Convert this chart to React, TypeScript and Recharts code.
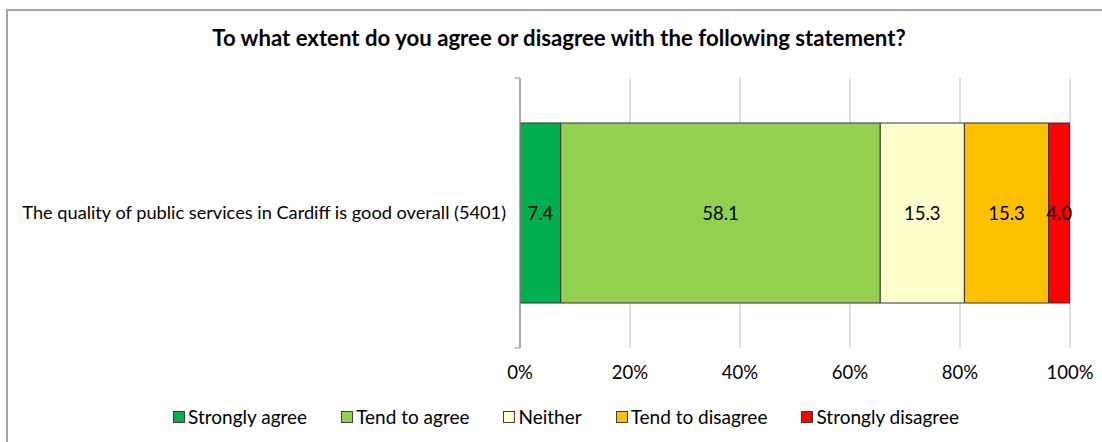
import React from "react";
import { BarChart, Bar, XAxis, YAxis, CartesianGrid, Legend, LabelList, ReferenceArea } from "recharts";

const title = "To what extent do you agree or disagree with the following statement?";
const categories = ["The quality of public services in Cardiff is good overall (5401)"];
const seriesNames = ["Strongly agree", "Tend to agree", "Neither", "Tend to disagree", "Strongly disagree"];
const stronglyAgree = [7.4];
const tendToAgree = [58.1];
const neither = [15.3];
const tendToDisagree = [15.3];
const stronglyDisagree = [4.0];
const xTicks = [0, 20, 40, 60, 80, 100];
const colors = ["#00B050", "#92D050", "#FFFFCC", "#FFC000", "#FF0000"];

const seriesValues = [stronglyAgree, tendToAgree, neither, tendToDisagree, stronglyDisagree];
const keys = ["s0", "s1", "s2", "s3", "s4"];

const data = categories.map((c, i) => {
  const row: any = { name: c };
  keys.forEach((k, j) => {
    row[k] = seriesValues[j][i];
  });
  return row;
});

const FONT = "Lato, 'Open Sans', sans-serif";

const LegendContent = (props: any) => {
  const { payload } = props;
  return (
    <div
      style={{
        display: "flex",
        justifyContent: "center",
        fontFamily: FONT,
        fontSize: 19,
        lineHeight: "22px",
        color: "#000",
        paddingLeft: 46,
      }}
    >
      {(payload || []).map((p: any, i: number) => (
        <div key={i} style={{ display: "flex", alignItems: "center", marginRight: i < payload.length - 1 ? 34 : 0 }}>
          <span
            style={{
              display: "inline-block",
              width: 10,
              height: 10,
              background: p.color,
              border: "1px solid #404040",
              marginRight: 3,
            }}
          />
          <span>{p.value}</span>
        </div>
      ))}
    </div>
  );
};

export default function App() {
  return (
    <div style={{ position: "absolute", left: 0, top: 0, width: 1102, height: 442, background: "#fff", overflow: "hidden" }}>
      <div
        style={{
          position: "absolute",
          left: 6,
          top: 9,
          width: 1200,
          height: 600,
          border: "2px solid #A6A6A6",
          boxSizing: "border-box",
        }}
      />
      <div
        style={{
          position: "absolute",
          left: 8,
          top: 24,
          width: 1102,
          textAlign: "center",
          fontFamily: FONT,
          fontWeight: 700,
          fontSize: 22.2,
          color: "#000",
        }}
      >
        {title}
      </div>
      <div style={{ position: "absolute", left: 0, top: 0 }}>
        <BarChart
          width={1102}
          height={442}
          data={data}
          layout="vertical"
          margin={{ top: 78, right: 32, bottom: 14, left: 16 }}
          barSize={180}
          style={{ fontFamily: FONT }}
        >
          <CartesianGrid horizontal={false} vertical={true} stroke="#BFBFBF" strokeWidth={1} />
          <XAxis
            type="number"
            domain={[0, 100]}
            ticks={xTicks}
            allowDataOverflow
            axisLine={false}
            tickLine={false}
            tickSize={0}
            tickMargin={18}
            height={58}
            tickFormatter={(v: number) => `${v}%`}
            tick={{ fill: "#000", fontSize: 18.5 }}
          />
          <YAxis
            type="category"
            dataKey="name"
            width={504}
            axisLine={{ stroke: "#999999" }}
            tickLine={false}
            tickSize={0}
            tickMargin={14}
            tick={{ fill: "#000", fontSize: 18.2 }}
          />
          {categories.map((c) => (
            <ReferenceArea
              key={c}
              x1={-1}
              x2={0}
              y1={c}
              y2={c}
              ifOverflow="visible"
              fill="none"
              fillOpacity={0}
              stroke="#999999"
              strokeWidth={1}
              strokeDasharray="281 1000"
            />
          ))}
          {keys.map((k, j) => (
            <Bar
              key={k}
              dataKey={k}
              name={seriesNames[j]}
              stackId="a"
              fill={colors[j]}
              stroke="#333333"
              strokeWidth={1}
              isAnimationActive={false}
            >
              <LabelList
                dataKey={k}
                position="center"
                formatter={(v: any) => Number(v).toFixed(1)}
                style={{ fill: "#000", fontSize: 18.5 }}
              />
            </Bar>
          ))}
          <Legend verticalAlign="bottom" itemSorter="dataKey" content={<LegendContent />} />
        </BarChart>
      </div>
    </div>
  );
}
